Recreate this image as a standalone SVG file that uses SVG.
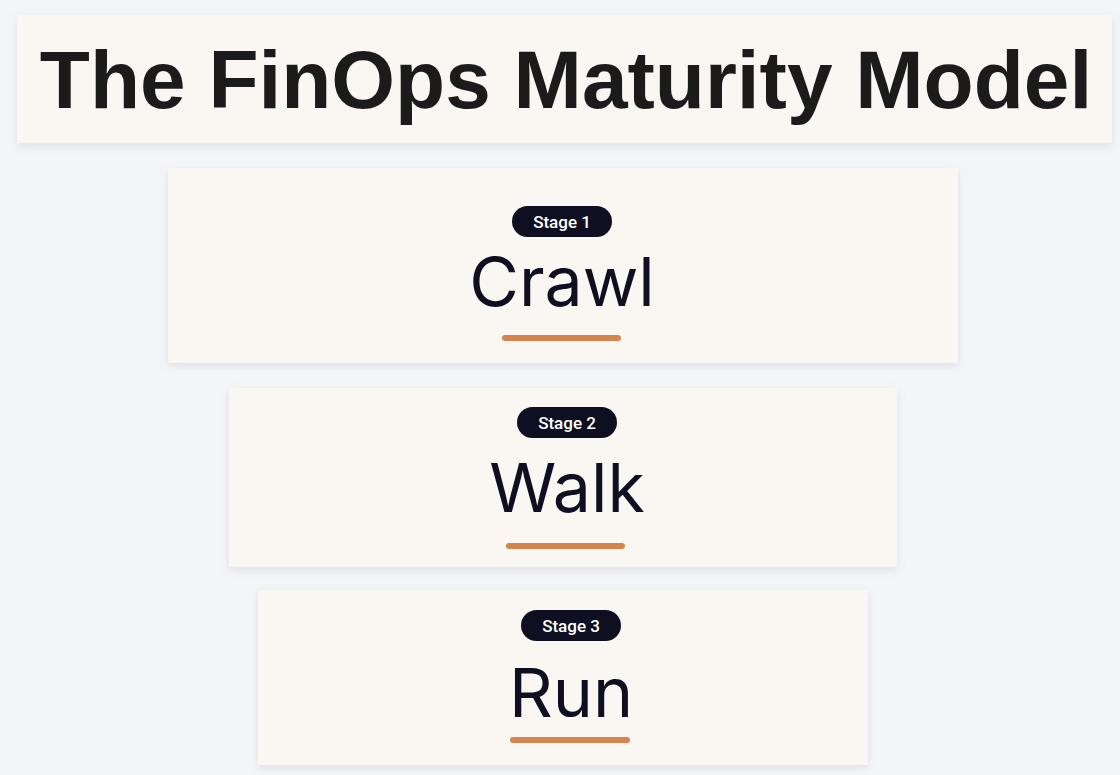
<svg xmlns="http://www.w3.org/2000/svg" width="1120" height="775" viewBox="0 0 1120 775">
<defs>
<filter id="sh" x="-5%" y="-10%" width="110%" height="125%">
<feDropShadow dx="0" dy="3" stdDeviation="4" flood-color="#8a8f9c" flood-opacity="0.22"/>
</filter>
<style>
.card{fill:#faf7f2;filter:url(#sh)}
.pill{fill:#0e1022}
.pt{font-family:Roboto,Inter,"Liberation Sans",sans-serif;font-weight:500;font-size:17px;fill:#ffffff;text-anchor:middle}
.st{font-family:Inter,"Liberation Sans",sans-serif;font-weight:400;font-size:68px;fill:#0e1022;text-anchor:middle}
.ul{stroke:#d6854f;stroke-width:6;stroke-linecap:round}
.title{font-family:"Liberation Sans",Arial,sans-serif;font-weight:700;font-size:82px;fill:#1b1b1b;text-anchor:middle}
</style>
</defs>
<rect width="1120" height="775" fill="#f4f5f8"/>
<g id="title">
<rect x="17" y="15" width="1095" height="128" class="card"/>
<text x="566" y="108" class="title">The FinOps Maturity Model</text>
</g>
<g id="stage1">
<rect x="168" y="168" width="790" height="195" class="card"/>
<rect x="512" y="206" width="100" height="31" rx="15.5" class="pill"/>
<text x="562" y="227.5" class="pt">Stage 1</text>
<text x="562" y="306" class="st">Crawl</text>
<line x1="505" y1="338" x2="618" y2="338" class="ul"/>
</g>
<g id="stage2">
<rect x="229" y="388" width="668" height="179" class="card"/>
<rect x="517" y="407" width="100" height="31" rx="15.5" class="pill"/>
<text x="567" y="428.5" class="pt">Stage 2</text>
<text x="567" y="512" class="st">Walk</text>
<line x1="509" y1="546" x2="622" y2="546" class="ul"/>
</g>
<g id="stage3">
<rect x="258" y="590" width="610" height="175" class="card"/>
<rect x="521" y="610" width="100" height="31" rx="15.5" class="pill"/>
<text x="571" y="631.5" class="pt">Stage 3</text>
<text x="571" y="717" class="st">Run</text>
<line x1="513" y1="740" x2="627" y2="740" class="ul"/>
</g>
<g id="connectors"/>
</svg>
